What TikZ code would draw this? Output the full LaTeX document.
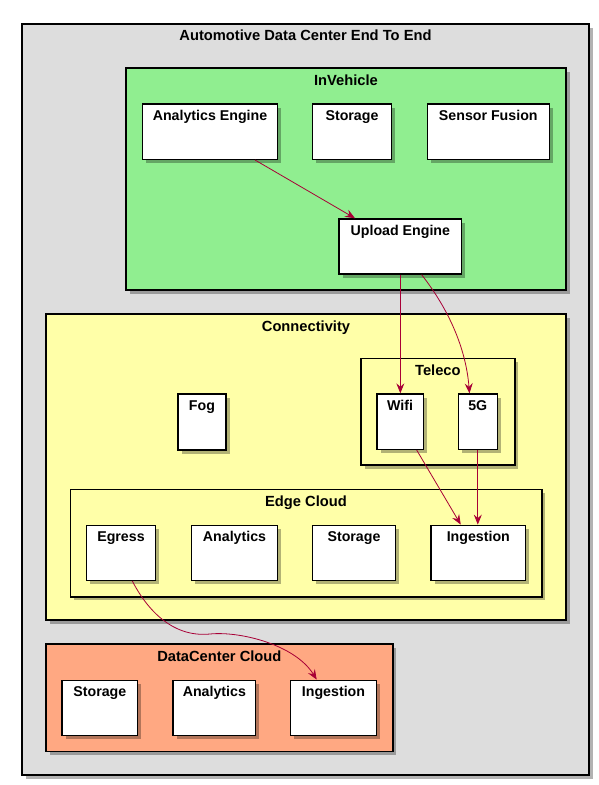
\documentclass[tikz,border=0pt]{standalone}
\usepackage{fontspec}
\setmainfont{Liberation Sans}
\usetikzlibrary{shadows,arrows.meta,fit}
\definecolor{bgmain}{HTML}{DDDDDD}
\definecolor{vehgreen}{HTML}{90EE90}
\definecolor{conyellow}{HTML}{FFFFA8}
\definecolor{dcsalmon}{HTML}{FFA882}
\definecolor{arrowred}{HTML}{A80036}
\begin{document}
\begin{tikzpicture}[x=1pt,y=-1pt,
  shad/.style={drop shadow={shadow xshift=3.5pt, shadow yshift=-3.5pt, fill=black, opacity=0.3}},
  cluster/.style={draw=black, line width=1.6pt, inner sep=0pt, shad},
  comp/.style={draw=black, line width=1.4pt, fill=white, inner sep=0pt, shad},
  lbl/.style={font=\bfseries\fontsize{14.2}{16}\selectfont, inner sep=0pt, anchor=base},
  clbl/.style={font=\bfseries\fontsize{14.7}{16}\selectfont, inner sep=0pt, anchor=base},
  arr/.style={draw=arrowred, line width=0.8pt, -{Stealth[length=10pt,width=8pt,inset=3.5pt]}}
]
\useasboundingbox[fill=white] (0,0) rectangle (599,785);

% main cluster
\node[cluster, fill=bgmain, fit={(22,24) (589,775)}] (main) {};
\node[clbl] (tmain) at ([yshift=-17.7pt]main.north) {Automotive Data Center End To End};

% InVehicle
\node[cluster, fill=vehgreen, fit={(126,68) (566,290)}] (inv) {};
\node[clbl] (tinv) at ([yshift=-18pt]inv.north) {InVehicle};
\node[comp, fit={(142.7,104) (277.3,159.3)}] (ae) {};
\node[lbl] (tae) at ([yshift=-17pt]ae.north) {Analytics Engine};
\node[comp, fit={(312.3,104) (391.7,159.3)}] (ist) {};
\node[lbl] (tist) at ([yshift=-17pt]ist.north) {Storage};
\node[comp, fit={(427.3,104) (549.3,159.3)}] (sf) {};
\node[lbl] (tsf) at ([yshift=-17pt]sf.north) {Sensor Fusion};
\node[comp, fit={(339,219) (461.7,274)}] (ue) {};
\node[lbl] (tue) at ([yshift=-17pt]ue.north) {Upload Engine};

% Connectivity
\node[cluster, fill=conyellow, fit={(46,314) (566,620)}] (con) {};
\node[clbl] (tcon) at ([yshift=-18pt]con.north) {Connectivity};
\node[comp, fit={(178,394) (226,450)}] (fog) {};
\node[lbl] (tfog) at ([yshift=-17pt]fog.north) {Fog};

\node[cluster, fill=conyellow, fit={(361,358.3) (514.7,465)}] (tel) {};
\node[clbl] (ttel) at ([yshift=-18pt]tel.north) {Teleco};
\node[comp, fit={(377,394) (423.3,449.3)}] (wifi) {};
\node[lbl] (twifi) at ([yshift=-17pt]wifi.north) {Wifi};
\node[comp, fit={(458.3,394) (497.3,449.3)}] (g5) {};
\node[lbl] (tg5) at ([yshift=-17pt]g5.north) {5G};

\node[cluster, fill=conyellow, fit={(70.3,489.3) (541.7,596.7)}] (edge) {};
\node[clbl] (tedge) at ([yshift=-18pt]edge.north) {Edge Cloud};
\node[comp, fit={(86.3,525.3) (155.7,580.3)}] (egr) {};
\node[lbl] (tegr) at ([yshift=-17pt]egr.north) {Egress};
\node[comp, fit={(191.3,525.3) (277.7,580.3)}] (ean) {};
\node[lbl] (tean) at ([yshift=-17pt]ean.north) {Analytics};
\node[comp, fit={(312.3,525.3) (395.7,580.3)}] (est) {};
\node[lbl] (test) at ([yshift=-17pt]est.north) {Storage};
\node[comp, fit={(431,525.3) (525.7,580.3)}] (eing) {};
\node[lbl] (teing) at ([yshift=-17pt]eing.north) {Ingestion};

% DataCenter Cloud
\node[cluster, fill=dcsalmon, fit={(46,644) (392.7,751.3)}] (dc) {};
\node[clbl] (tdc) at ([yshift=-18pt]dc.north) {DataCenter Cloud};
\node[comp, fit={(62,680.3) (137.7,735.7)}] (dst) {};
\node[lbl] (tdst) at ([yshift=-17pt]dst.north) {Storage};
\node[comp, fit={(173,680.3) (255.7,735.7)}] (dan) {};
\node[lbl] (tdan) at ([yshift=-17pt]dan.north) {Analytics};
\node[comp, fit={(290.3,680.3) (376.7,735.7)}] (ding) {};
\node[lbl] (tding) at ([yshift=-17pt]ding.north) {Ingestion};

% connectors
\draw[arr] ([xshift=45pt]ae.south) -- ([xshift=-45.3pt]ue.north);
\draw[arr] (ue.south) -- (ue.south |- wifi.north);
\draw[arr] ([xshift=21.3pt]ue.south) .. controls +(28,36) and +(-3.5,-44) .. ([xshift=-8.3pt]g5.north);
\draw[arr] ([xshift=16.5pt]wifi.south) -- ([xshift=-17.6pt]eing.north);
\draw[arr] (g5.south) -- (g5.south |- eing.north);
\draw[arr] ([xshift=11.3pt]egr.south) .. controls +(12.7,24.7) and +(-40,4) .. (210,634)
   .. controls +(30,-3) and +(-21.7,-35) .. ([xshift=-16.8pt]ding.north);
\end{tikzpicture}
\end{document}
